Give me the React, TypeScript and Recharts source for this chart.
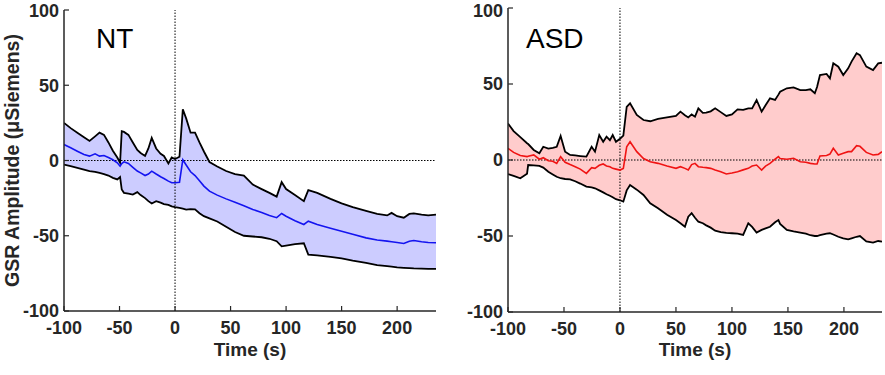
import React from 'react';
import { ComposedChart, Area, Line, XAxis, YAxis, ReferenceLine } from 'recharts';

// ---------- NT panel ----------
const ntTime = [-100, -94, -88, -82, -77, -72, -68, -64, -60, -56, -52, -49.5, -48, -46, -42, -38, -34, -31, -27, -24, -21, -17, -13, -10, -6, -3, 0, 4, 7, 10, 14, 18, 22, 26, 31, 38, 46, 54, 62, 70, 78, 85, 91.5, 96, 100, 108, 116, 120, 128, 140, 150, 160, 172, 182, 191, 195, 200, 206, 211, 215, 222, 228, 235];
const ntUpper = [25, 21.5, 18.5, 15.5, 13, 16, 18.5, 17, 12, 6.5, 2, -1.5, 19.5, 19, 17, 12, 7, 5, 3, 8, 15, 8, 4.5, 3, -2, 2, 1, 2.5, 34, 28, 18.5, 18.5, 12, 6, -1, -4, -7, -9, -10, -16, -19, -21.5, -24, -14.4, -19, -23, -27, -19.7, -21.5, -25.5, -28.5, -31, -33.5, -35.5, -36.5, -34.8, -37, -38, -35.5, -35.2, -36, -36.5, -36];
const ntMean = [10.6, 8.5, 6.2, 4, 2.9, 4.4, 2.9, 3.3, 2, 0.5, -1.5, -3.8, -2, -0.9, -2, -4.5, -7, -8.2, -10, -9, -7.1, -9, -10.8, -12, -13.7, -14.8, -14.8, -14.4, 0.5, -3, -7.5, -10, -13.5, -17, -20.4, -23, -25.5, -27.7, -30, -32.5, -34.5, -36.5, -38, -35.2, -37, -40, -42.5, -40.3, -42.5, -45, -47, -49, -51.4, -52.8, -53.6, -54, -54.5, -55.1, -53.6, -53.2, -54, -54.5, -54.7];
const ntLower = [-2.7, -3.8, -4.9, -6, -7, -7.5, -8.2, -9, -10, -11.5, -12.6, -11, -19.3, -21.5, -22, -22.6, -21, -23, -25, -27, -28.6, -27, -28, -29, -29.5, -30.5, -31, -31.5, -32, -32.6, -32.3, -32.5, -35, -37, -38.5, -40.5, -44, -47.5, -50, -50.5, -51, -52, -53.6, -57, -56.5, -55.5, -55, -62.5, -63, -64, -65, -66.5, -68, -69.5, -70.2, -70.5, -71, -71.3, -71.5, -71.7, -71.8, -72, -72];

// ---------- ASD panel ----------
const asdTime = [-100, -95, -89, -83, -82, -77, -72, -68.5, -64, -60, -56.5, -53, -49, -44.5, -40, -35.5, -30, -25.3, -22.3, -18.5, -15, -12, -9, -6.5, -3.6, 0, 3, 6, 9, 15, 21, 27, 34, 42, 50, 54, 58, 61, 64, 67, 70, 74, 77, 81, 85, 90, 95, 100, 105, 110, 114.6, 118, 122, 126.5, 130, 134, 138.5, 141.5, 143, 149, 155, 161, 166, 170, 174, 176, 178.6, 184.5, 187.5, 190.5, 195, 199.4, 203.8, 206.8, 211.3, 214.3, 220, 226, 230.6, 234];
const asdUpper = [24, 19, 15, 11, 10.5, 6.6, 4.4, 8.7, 7.5, 8, 8.7, 15.8, 5.5, 3.3, 3, 2.6, 2.2, 8.7, 5.5, 16.4, 12, 15.3, 13, 16.4, 12, 14, 16, 35, 37.3, 29.6, 26.3, 25.5, 27, 28, 29, 31.8, 29.5, 28, 30, 28.5, 34, 31, 31.1, 32, 34, 31.5, 29, 30, 33.3, 33, 34, 34, 39.5, 31.8, 36, 40.6, 39.5, 43, 44.9, 47.2, 47.8, 46, 46, 46.5, 43.9, 48, 55.9, 56.6, 53.7, 63.6, 61.4, 55.9, 60.3, 64.7, 70.2, 69, 61.4, 59.2, 63.6, 64];
const asdMean = [7.7, 5, 3, 2.2, 2.5, 3.3, 0.5, 1.5, -0.5, -0.8, -2.2, 2.2, -1.5, -3, -4.4, -6, -8.8, -5, -5.5, -3.5, -2.6, -3.9, -4.5, -5.5, -6, -6.6, -5.5, 8.7, 12, 5.5, 1, -1.1, -2.2, -4, -5.5, -4.4, -5.5, -6.6, -3, -2.2, -4.4, -4.8, -5, -5.5, -6.6, -7.7, -9.2, -8.5, -7.7, -6.5, -5.5, -4, -3.3, -6.6, -4, -2.2, 0.5, 2.2, 1, 0.5, 1.1, -1.1, -1.5, -2.2, -2.6, -2.6, 2.6, 3, 3.9, 7.7, 3.3, 4.5, 5.5, 5.5, 9.4, 9, 5, 3.3, 3.7, 5.5];
const asdLower = [-9.2, -10.5, -12, -9, -3.3, -3.5, -3.9, -5, -7.7, -9.5, -11, -12, -12.5, -12.7, -14, -15.5, -17.5, -18, -18.6, -20, -21.3, -22.5, -23.5, -24.5, -25.8, -26.5, -27.4, -20, -16.4, -19.5, -23, -28.5, -31.8, -36, -39.5, -41.6, -43.9, -37.3, -35, -38, -40.6, -41.6, -43, -44.5, -46.5, -47.5, -48, -48.2, -48.5, -49.3, -41.6, -44, -47.8, -46, -45, -43.9, -41, -39.5, -42, -46, -47, -47.8, -48.5, -49.5, -50, -50, -49.5, -48.5, -48.2, -49, -50.5, -51.5, -52.2, -51.5, -50.5, -50, -53.5, -54.4, -53.3, -53.7];

const xTicks = [-100, -50, 0, 50, 100, 150, 200];
const yTicks = [-100, -50, 0, 50, 100];

const FONT = '"Liberation Sans", Arial, Helvetica, sans-serif';
const AXIS = '#262626';

function buildRows(time: number[], upper: number[], mean: number[], lower: number[]) {
  return time.map((t, i) => ({ t, upper: upper[i], mean: mean[i], lower: lower[i], band: [lower[i], upper[i]] }));
}

type PanelProps = {
  rows: any[];
  xMax: number;
  fill: string;
  meanColor: string;
  width: number;
  margin: { top: number; right: number; bottom: number; left: number };
  xAxisHeight: number;
  yLabel?: string;
};

function Panel({ rows, xMax, fill, meanColor, width, margin, xAxisHeight, yLabel }: PanelProps) {
  const tickStyle = { fill: AXIS, fontSize: 18, fontWeight: 700, fontFamily: FONT };
  return (
    <ComposedChart width={width} height={375} data={rows} margin={margin}>
      <XAxis
        dataKey="t"
        type="number"
        domain={[-100, xMax]}
        ticks={xTicks}
        allowDataOverflow
        height={xAxisHeight}
        tickSize={-5}
        tickMargin={15}
        tick={tickStyle}
        axisLine={{ stroke: AXIS, strokeWidth: 1.5 }}
        tickLine={{ stroke: AXIS, strokeWidth: 1.2 }}
        label={{ value: 'Time (s)', position: 'insideBottom', offset: 0, style: { fill: AXIS, fontSize: 19, fontWeight: 700, fontFamily: FONT } }}
      />
      <XAxis
        xAxisId="top"
        orientation="top"
        dataKey="t"
        type="number"
        domain={[-100, xMax]}
        ticks={xTicks}
        allowDataOverflow
        height={0}
        tickSize={-5}
        tick={false}
        axisLine={{ stroke: AXIS, strokeWidth: 1.5 }}
        tickLine={{ stroke: AXIS, strokeWidth: 1.2 }}
      />
      <YAxis
        type="number"
        domain={[-100, 100]}
        ticks={yTicks}
        allowDataOverflow
        width={64}
        tickSize={-5}
        tickMargin={10}
        tick={tickStyle}
        axisLine={{ stroke: AXIS, strokeWidth: 1.5 }}
        tickLine={{ stroke: AXIS, strokeWidth: 1.2 }}
        label={yLabel ? { value: yLabel, angle: -90, position: 'insideLeft', offset: 12, style: { textAnchor: 'middle', fill: AXIS, fontSize: 19.5, fontWeight: 700, fontFamily: FONT } } : undefined}
      />
      <YAxis
        yAxisId="right"
        orientation="right"
        type="number"
        domain={[-100, 100]}
        ticks={yTicks}
        allowDataOverflow
        width={0}
        tickSize={-5}
        tick={false}
        axisLine={{ stroke: AXIS, strokeWidth: 1.5 }}
        tickLine={{ stroke: AXIS, strokeWidth: 1.2 }}
      />
      <Area dataKey="band" type="linear" fill={fill} fillOpacity={1} stroke="none" isAnimationActive={false} />
      <ReferenceLine x={0} stroke="#000" strokeWidth={1} strokeDasharray="1.5 1.5" />
      <ReferenceLine y={0} stroke="#000" strokeWidth={1} strokeDasharray="1.5 1.5" />
      <Line dataKey="upper" type="linear" stroke="#000" strokeWidth={1.8} dot={false} isAnimationActive={false} />
      <Line dataKey="lower" type="linear" stroke="#000" strokeWidth={1.8} dot={false} isAnimationActive={false} />
      <Line dataKey="mean" type="linear" stroke={meanColor} strokeWidth={1.6} dot={false} isAnimationActive={false} />
    </ComposedChart>
  );
}

export default function App() {
  const ntRows = buildRows(ntTime, ntUpper, ntMean, ntLower);
  const asdRows = buildRows(asdTime, asdUpper, asdMean, asdLower);
  return (
    <div style={{ position: 'absolute', left: 0, top: 0, width: 885, height: 375, background: '#fff', fontFamily: FONT }}>
      <div style={{ position: 'absolute', left: 0, top: 0 }}>
        <Panel rows={ntRows} xMax={235} fill="#ccccff" meanColor="#1414f0" width={440}
          margin={{ top: 10, right: 4, bottom: 19, left: 0 }} xAxisHeight={45} yLabel="GSR Amplitude (μSiemens)" />
      </div>
      <div style={{ position: 'absolute', left: 444, top: 0 }}>
        <Panel rows={asdRows} xMax={234} fill="#ffcccc" meanColor="#f01414" width={441}
          margin={{ top: 8, right: 3, bottom: 19, left: 0 }} xAxisHeight={44} />
      </div>
      <svg width={885} height={375} style={{ position: 'absolute', left: 0, top: 0, pointerEvents: 'none' }}>
        <text x={96} y={48} fontSize={28} fontFamily={FONT} fill="#000">NT</text>
        <text x={526} y={48} fontSize={28} fontFamily={FONT} fill="#000">ASD</text>
      </svg>
    </div>
  );
}
